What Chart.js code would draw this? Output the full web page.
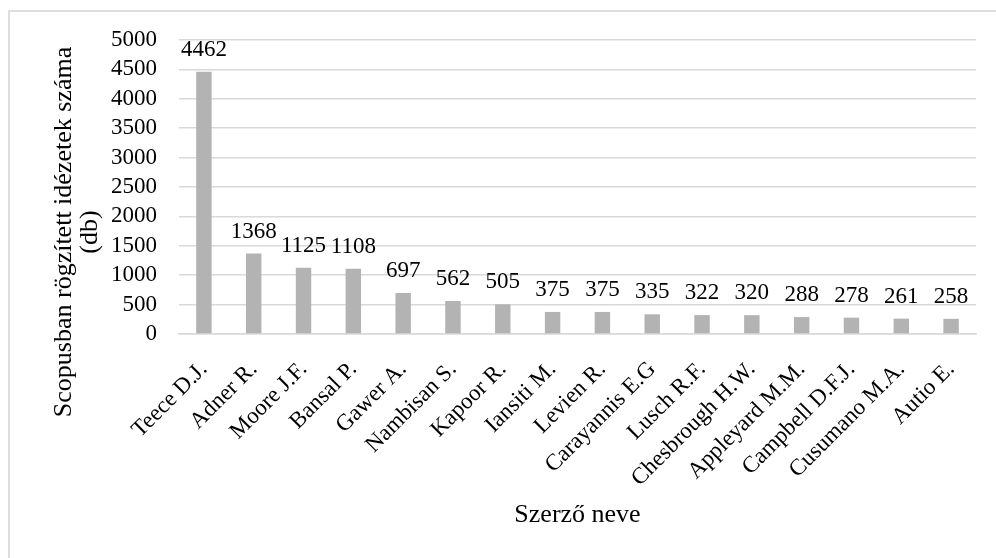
<!DOCTYPE html>
<html>
<head>
<meta charset="utf-8">
<script src="https://cdn.jsdelivr.net/npm/chart.js@4"></script>
<style>
  html, body { margin: 0; padding: 0; background: #fff; overflow: hidden; }
  #wrap { position: relative; width: 996px; height: 558px; }
  #frame { position: absolute; left: 8px; top: 10px; width: 1200px; height: 800px; border: 2px solid #dedede; }
  #chart { position: absolute; left: 0; top: 0; }
</style>
</head>
<body>
<div id="wrap">
  <div id="frame"></div>
  <canvas id="chart" width="996" height="558"></canvas>
</div>
<script>
// data
const authors = ['Teece D.J.', 'Adner R.', 'Moore J.F.', 'Bansal P.', 'Gawer A.', 'Nambisan S.', 'Kapoor R.', 'Iansiti M.',
  'Levien R.', 'Carayannis E.G', 'Lusch R.F.', 'Chesbrough H.W.', 'Appleyard M.M.', 'Campbell D.F.J.', 'Cusumano M.A.', 'Autio E.'];
const citations = [4462, 1368, 1125, 1108, 697, 562, 505, 375, 375, 335, 322, 320, 288, 278, 261, 258];
const yTitle = ['Scopusban rögzített idézetek száma', '(db)'];
const xTitle = 'Szerző neve';

const FONT = "'Liberation Serif', 'Times New Roman', serif";

// value labels above the bars
const valueLabels = {
  id: 'valueLabels',
  afterDatasetsDraw(chart) {
    const ctx = chart.ctx;
    const meta = chart.getDatasetMeta(0);
    ctx.save();
    ctx.font = '23px ' + FONT;
    ctx.fillStyle = '#000';
    ctx.textAlign = 'center';
    ctx.textBaseline = 'alphabetic';
    meta.data.forEach((bar, i) => {
      ctx.fillText(String(citations[i]), bar.x, bar.y - 16);
    });
    ctx.restore();
  }
};

// y axis title, centred like the original (a bit below the plot middle)
const yAxisTitle = {
  id: 'yAxisTitle',
  afterDraw(chart) {
    const ctx = chart.ctx;
    ctx.save();
    ctx.font = '26px ' + FONT;
    ctx.fillStyle = '#000';
    ctx.textAlign = 'center';
    ctx.textBaseline = 'middle';
    ctx.translate(0, 232);
    ctx.rotate(-Math.PI / 2);
    ctx.fillText(yTitle[0], 0, 64);
    ctx.fillText(yTitle[1], 0, 90);
    ctx.restore();
  }
};

new Chart(document.getElementById('chart').getContext('2d'), {
  type: 'bar',
  data: {
    labels: authors,
    datasets: [{
      data: citations,
      backgroundColor: '#b3b3b3',
      categoryPercentage: 1,
      barPercentage: 0.31
    }]
  },
  options: {
    responsive: false,
    animation: false,
    layout: { padding: { top: 40, right: 20, bottom: 0, left: 0 } },
    plugins: {
      legend: { display: false },
      tooltip: { enabled: false }
    },
    scales: {
      y: {
        min: 0, max: 5000,
        ticks: { stepSize: 500, autoSkip: false, callback: v => String(v), color: '#000', padding: 22, font: { family: FONT, size: 23 } },
        grid: { color: '#d9d9d9', lineWidth: 1.5, drawTicks: false },
        border: { display: false },
        afterFit: s => { s.width = 179; }
      },
      x: {
        ticks: { color: '#000', minRotation: 45, maxRotation: 45, autoSkip: false, padding: 14, font: { family: FONT, size: 23 } },
        grid: { display: false },
        border: { color: '#d9d9d9', width: 1.5 },
        title: { display: true, text: xTitle, color: '#000', font: { family: FONT, size: 26 }, padding: { top: 0, bottom: 27 } },
        afterFit: s => { s.height = 224; }
      }
    }
  },
  plugins: [valueLabels, yAxisTitle]
});
</script>
</body>
</html>
